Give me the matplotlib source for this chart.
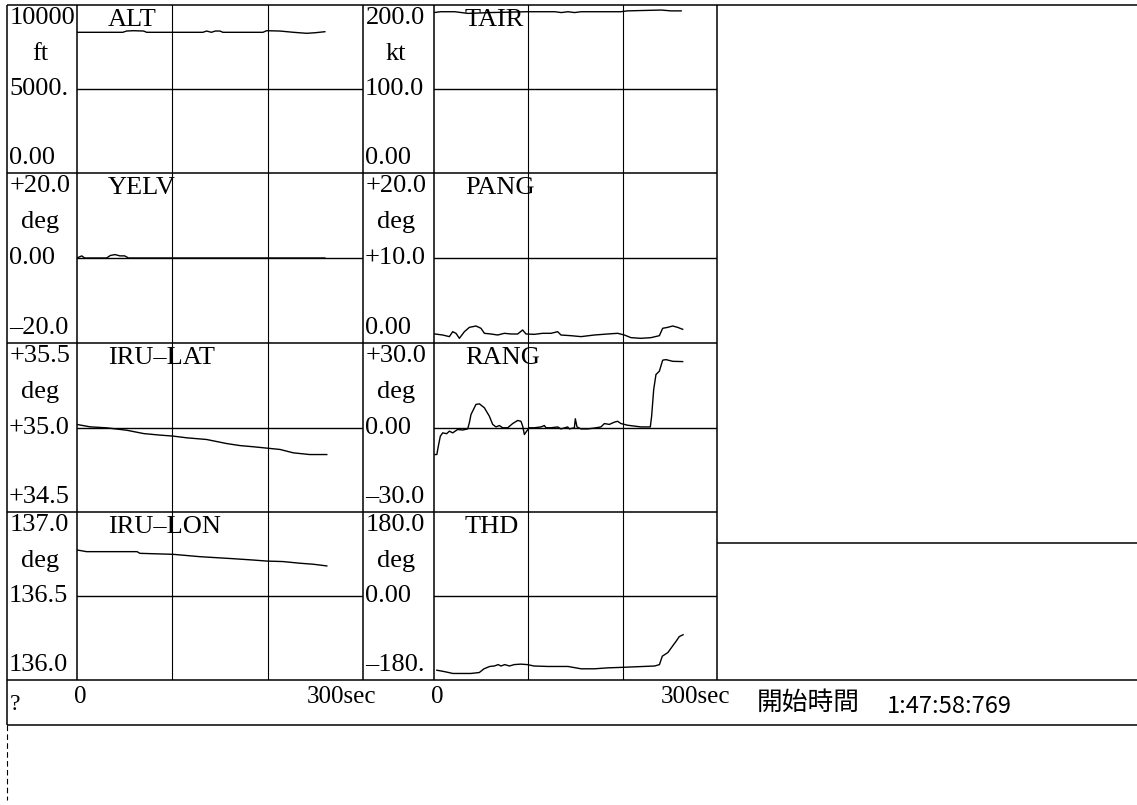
import matplotlib
matplotlib.use('Agg')
import matplotlib.pyplot as plt

plt.rcParams['font.family'] = ['Liberation Serif', 'DejaVu Serif']

# flight record traces, time in seconds from start
alt_t = [0, 48, 52, 59, 70, 73, 132, 136, 141, 145, 150, 153, 195, 199, 213, 227, 241, 250, 260]
alt_v = [8375, 8375, 8450, 8470, 8450, 8375, 8375, 8450, 8375, 8450, 8450, 8375, 8375, 8470, 8450,
         8375, 8315, 8350, 8410]

tair_t = [0, 7, 22, 29, 36, 60, 99, 128, 135, 142, 149, 156, 198, 205, 241, 251, 262]
tair_v = [191, 192, 192, 191, 190, 191, 192, 192, 191, 192, 191, 192, 192, 193, 194, 193, 193]

yelv_t = [0, 5, 8, 31, 35, 40, 45, 50, 54, 260]
yelv_v = [0, 0.5, 0, 0, 0.6, 0.8, 0.5, 0.5, 0, 0]

pang_t = [1, 9.2, 16.3, 19.8, 23.3, 26.9, 32.2, 37.5, 44.5, 49.8, 53.4, 60.4, 67.5, 74.6, 81.6, 88.7,
          94, 97.5, 106.4, 115.2, 124, 131.1, 134.6, 145.2, 155.8, 170, 184.1, 194.7, 201.8, 208.8,
          219.4, 230, 238.9, 242.4, 247.7, 253, 258.3, 263.6]
pang_v = [1.06, 0.94, 0.75, 1.33, 1.14, 0.55, 1.33, 1.84, 2.0, 1.73, 1.14, 1.06, 0.94, 1.14, 1.06, 1.06,
          1.53, 1.06, 1.02, 1.14, 1.14, 1.33, 0.94, 0.86, 0.75, 0.94, 1.06, 1.14, 0.94, 0.63,
          0.55, 0.63, 0.86, 1.73, 1.84, 2.0, 1.84, 1.61]

lat_t = [0, 13.6, 31, 52, 70, 87, 101, 115, 136, 157, 171, 185, 199, 213, 227, 244, 262]
lat_v = [35.018, 35.004, 34.998, 34.984, 34.964, 34.955, 34.949, 34.939, 34.929, 34.905, 34.893,
         34.886, 34.878, 34.870, 34.850, 34.840, 34.840]

rang_t = [1, 3, 4.6, 6.7, 9.2, 13.4, 16.3, 19.8, 25.1, 30.4, 35.7, 37.5, 39.2, 44.5, 48.1, 53.4,
          58.7, 62.2, 65.7, 69.3, 72.8, 78.1, 83.4, 88.7, 92.2, 94, 95.8, 98.2, 101.1, 106.4,
          113.4, 117, 118.7, 124, 131.1, 134.6, 141.7, 143.5, 148.8, 149.8, 151.6, 155.8, 162.9,
          170, 177, 180.6, 185.9, 191.2, 194.7, 198.2, 205.3, 212.4, 219.4, 229.3, 230.7, 232.9,
          235.3, 238.9, 242.4, 245.9, 253, 263.6]
rang_v = [-9.6, -9.6, -6.6, -3.1, -1.9, -2.2, -1.3, -1.9, -0.7, -0.9, -0.5, 1.7, 4.6, 8.2, 8.4, 7.0,
          4.0, 1.1, 0.2, 0.7, -0.1, -0.1, 1.4, 2.5, 2.2, 0.5, -2.5, -1.3, -0.1, -0.1,
          0.2, 0.7, -0.1, -0.1, 0.2, -0.5, 0.2, -0.5, -0.1, 3.1, 0.2, -0.5, -0.5,
          -0.2, 0.2, 1.4, 1.1, 1.9, 2.2, 1.4, 0.8, 0.5, 0.2, 0.2, 4.0, 13.5,
          18.8, 20.0, 23.9, 24.1, 23.5, 23.4]

lon_t = [0, 10, 24, 63, 66, 101, 129, 164, 185, 199, 216, 234, 248, 262]
lon_v = [136.774, 136.764, 136.764, 136.764, 136.754, 136.748, 136.734, 136.722, 136.714, 136.708,
         136.705, 136.695, 136.689, 136.679]

thd_t = [3, 11, 20, 29, 39, 48, 53, 59, 64, 68, 71, 75, 80, 85, 92, 99, 106, 121, 142, 156, 170,
         184, 198, 234, 239, 242, 248, 253, 257, 260, 264]
thd_v = [-159, -162, -166, -166, -166, -164, -156, -151, -150, -147, -150, -147, -150, -147, -146,
         -147, -150, -151, -151, -156, -156, -154, -153, -150, -147, -129, -121, -107, -96, -87, -83]

names = ['ALT', 'TAIR', 'YELV', 'PANG', 'IRU\u2013LAT', 'RANG', 'IRU\u2013LON', 'THD']
units = ['ft', 'kt', 'deg', 'deg', 'deg', 'deg', 'deg', 'deg']
scale_labels = [('10000', '5000.', '0.00'), ('200.0', '100.0', '0.00'),
                ('+20.0', '0.00', '\u201320.0'), ('+20.0', '+10.0', '0.00'),
                ('+35.5', '+35.0', '+34.5'), ('+30.0', '0.00', '\u201330.0'),
                ('137.0', '136.5', '136.0'), ('180.0', '0.00', '\u2013180.')]
limits = [(0, 10000), (0, 200), (-20, 20), (0, 20), (34.5, 35.5), (-30, 30), (136, 137), (-180, 180)]
traces = [(alt_t, alt_v), (tair_t, tair_v), (yelv_t, yelv_v), (pang_t, pang_v),
          (lat_t, lat_v), (rang_t, rang_v), (lon_t, lon_v), (thd_t, thd_v)]
t_max = 300
grid_t = [100, 200]
start_label = '開始時間'
start_time = '1:47:58:769'

# page layout in pixels
W, H = 1137, 805
row_y = [5, 173, 343, 512, 680]
box_x = [7, 363]
plot_x = [(77, 363), (434, 717)]
lw_frame = 1.1
fs = 19

fig = plt.figure(figsize=(W / 100, H / 100), dpi=100)
bg = fig.add_axes([0, 0, 1, 1])
bg.set_xlim(0, W)
bg.set_ylim(H, 0)
bg.axis('off')

def hline(y, x0, x1, **kw):
    bg.plot([x0, x1], [y, y], color='k', lw=kw.pop('lw', lw_frame), solid_capstyle='butt', **kw)

def vline(x, y0, y1, **kw):
    bg.plot([x, x], [y0, y1], color='k', lw=kw.pop('lw', lw_frame), solid_capstyle='butt', **kw)

# frame
hline(row_y[0], box_x[0], W)
for y in row_y[1:4]:
    hline(y, box_x[0], plot_x[1][1])
hline(row_y[4], box_x[0], W)
hline(725, box_x[0], W)
hline(543, plot_x[1][1], W)
vline(box_x[0], row_y[0], 725)
vline(box_x[0], 725, 800, lw=0.8, ls=(0, (5, 3)))
for x in [plot_x[0][0], box_x[1], plot_x[1][0], plot_x[1][1]]:
    vline(x, row_y[0], row_y[4])

for i in range(8):
    r, c = i // 2, i % 2
    top, bot = row_y[r], row_y[r + 1]
    mid = (top + bot) / 2
    x0, x1 = plot_x[c]
    bx = box_x[c]
    ax = fig.add_axes([x0 / W, 1 - bot / H, (x1 - x0) / W, (bot - top) / H])
    ax.set_xlim(0, t_max)
    ax.set_ylim(*limits[i])
    ax.axis('off')
    for g in grid_t:
        ax.axvline(g, color='k', lw=0.8)
    ax.axhline(sum(limits[i]) / 2, color='k', lw=1.0)
    t, v = traces[i]
    ax.plot(t, v, color='k', lw=1.0)

    hi, md, lo = scale_labels[i]
    bg.text(bx + 3, top + 13, hi, fontsize=fs, ha='left', va='center')
    bg.text(bx + 33, top + 49, units[i], fontsize=fs, ha='center', va='center')
    bg.text(bx + 2, mid, md, fontsize=fs, ha='left', va='center')
    bg.text(bx + 2, bot - 15, lo, fontsize=fs, ha='left', va='center')
    bg.text(x0 + 31, top + 4, names[i], fontsize=fs, ha='left', va='top')

# time axis strip
bg.text(10, 704, '?', fontsize=17, ha='left', va='center')
for x0, x1 in plot_x:
    bg.text(x0 + 3, 697, '0', fontsize=18, ha='center', va='center')
    bg.text(x1 - 21, 697, '%dsec' % t_max, fontsize=18, ha='center', va='center')
bg.text(757, 703, start_label, fontsize=18.5, ha='left', va='center',
        family=['Noto Sans CJK JP', 'DejaVu Sans'])
bg.text(887, 706, start_time, fontsize=17, ha='left', va='center',
        family=['Noto Sans CJK JP', 'DejaVu Sans'])

fig.savefig('out.png', dpi=100)
